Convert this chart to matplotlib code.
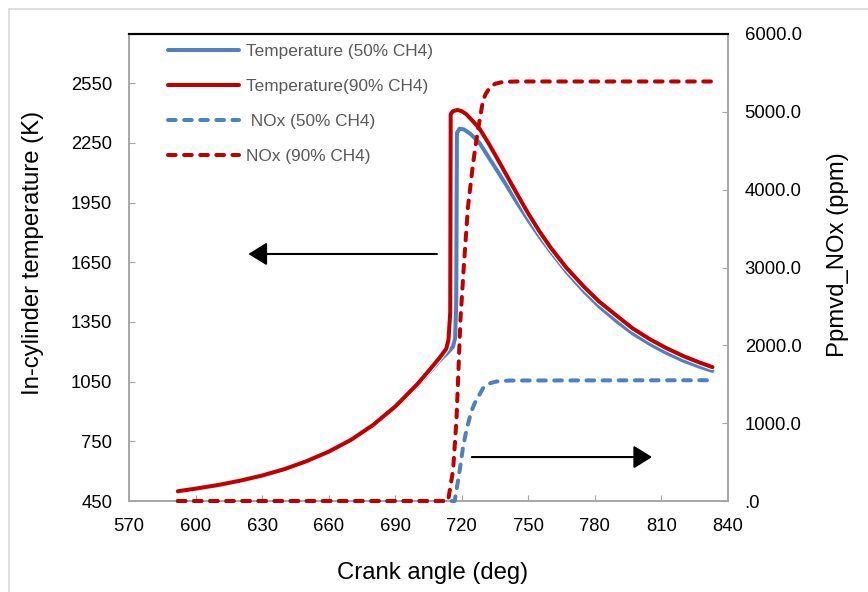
import matplotlib
matplotlib.use("Agg")
import matplotlib.pyplot as plt
import matplotlib.patheffects as pe
from matplotlib.lines import Line2D

plt.rcParams['font.family'] = ['Liberation Sans', 'DejaVu Sans']

### values
# in-cylinder temperature, 90% CH4
t90_deg = [592, 600, 610, 620, 630, 640, 650, 660, 670, 680, 690, 700, 705, 710, 713,
           714, 714.8, 715, 716, 718, 720, 722, 725, 728, 732, 736, 740, 745, 750,
           755, 760, 767, 775, 782, 790, 797, 805, 812, 820, 827, 833]
t90_K = [499, 512, 530, 552, 578, 610, 650, 698, 757, 832, 925, 1038, 1103, 1170, 1215,
         1260, 1400, 2395, 2410, 2416, 2410, 2395, 2360, 2322, 2250, 2172, 2092, 1992, 1895,
         1806, 1725, 1625, 1528, 1452, 1380, 1318, 1262, 1220, 1178, 1147, 1123]

# in-cylinder temperature, 50% CH4
t50_deg = [592, 600, 610, 620, 630, 640, 650, 660, 670, 680, 690, 700, 705, 710, 714,
           716, 717, 717.5, 717.8, 719, 721, 724, 728, 732, 736, 740, 745, 750,
           755, 760, 767, 775, 782, 790, 797, 805, 812, 820, 827, 833]
t50_K = [499, 512, 530, 551, 577, 608, 647, 694, 752, 828, 920, 1030, 1093, 1156, 1200,
         1225, 1270, 1450, 2300, 2322, 2318, 2295, 2250, 2180, 2110, 2040, 1948, 1862,
         1780, 1705, 1605, 1505, 1428, 1352, 1293, 1238, 1196, 1155, 1126, 1104]

# NOx, 90% CH4
n90_deg = [592, 713.8, 716.1, 717.6, 718.5, 719.4, 721, 722.8, 725.1, 727.3, 729.6,
           730.8, 732.6, 735, 738.6, 745, 833]
n90_ppm = [0, 0, 400, 1040, 1680, 2330, 3050, 3780, 4340, 4770, 5150,
           5230, 5310, 5360, 5385, 5390, 5390]

# NOx, 50% CH4
n50_deg = [592, 716.8, 719.1, 720.6, 722.1, 724.3, 725.8, 729.6, 732.6, 735.6, 741.6, 833]
n50_ppm = [0, 0, 400, 700, 910, 1150, 1255, 1450, 1512, 1535, 1548, 1552]

x_ticks = list(range(570, 841, 30))
left_ticks = list(range(450, 2551, 300))
right_ticks = list(range(0, 6001, 1000))
right_labels = [".0", "1000.0", "2000.0", "3000.0", "4000.0", "5000.0", "6000.0"]

blue = "#4F81BD"
red = "#C00000"
grey = "#A6A6A6"

W, H = 868, 592
fig = plt.figure(figsize=(W / 100, H / 100), dpi=100)
ax = fig.add_axes([129 / W, 1 - 501 / H, (728 - 129) / W, (501 - 34) / H])
ax2 = ax.twinx()

halo = [pe.Stroke(linewidth=4.4, foreground="white"), pe.Normal()]
l1, = ax.plot(t50_deg, t50_K, color=blue, lw=2.9, label="Temperature (50% CH4)",
              path_effects=halo, solid_joinstyle="round", solid_capstyle="round")
l2, = ax.plot(t90_deg, t90_K, color=red, lw=2.9, label="Temperature(90% CH4)",
              path_effects=halo, solid_joinstyle="round", solid_capstyle="round")
l3, = ax2.plot(n50_deg, n50_ppm, color=blue, lw=2.9, ls=(0, (1.9, 2.1)), zorder=3,
               dash_capstyle="round", clip_on=False, label=" NOx (50% CH4)")
l4, = ax2.plot(n90_deg, n90_ppm, color=red, lw=2.9, ls=(0, (1.9, 2.1)), zorder=3,
               dash_capstyle="round", clip_on=False, label="NOx (90% CH4)")

ax.set_xlim(570, 840)
ax.set_ylim(450, 2798)
ax2.set_ylim(0, 6000)
ax.set_xticks(x_ticks)
ax.set_yticks(left_ticks)
ax2.set_yticks(right_ticks)
ax2.set_yticklabels(right_labels)

for a in (ax, ax2):
    for s in a.spines.values():
        s.set_color(grey)
        s.set_linewidth(1.2)
    a.spines["top"].set_color("black")
    a.spines["top"].set_linewidth(1.5)
ax.tick_params(axis="both", direction="in", length=4, color=grey, labelsize=13.3, pad=12)
ax2.tick_params(axis="y", direction="in", length=4, color=grey, labelsize=13.3, pad=12)

# arrows pointing to the axis each family belongs to
arrow = dict(arrowstyle="-|>,head_length=0.42,head_width=0.26", color="black",
             lw=1.5, mutation_scale=27, shrinkA=0, shrinkB=0)
ax.annotate("", xy=(623.8, 1692), xytext=(708.8, 1692), arrowprops=arrow)
ax.annotate("", xy=(805.8, 671), xytext=(724.5, 671), arrowprops=arrow)

ax2.legend(handles=[l1, l2, l3, l4], loc="upper left",
           bbox_to_anchor=(168 / W, 1 - 44 / H), bbox_transform=fig.transFigure,
           frameon=False, borderaxespad=0, borderpad=0, handlelength=4.1,
           handletextpad=0.4, labelspacing=1.16, fontsize=12.4, labelcolor="#595959")

fig.text(433 / W, 1 - 573 / H, "Crank angle (deg)", ha="center", va="center", fontsize=17.2)
fig.text(33 / W, 1 - 253 / H, "In-cylinder temperature (K)", ha="center", va="center",
         rotation=90, fontsize=17.2)
fig.text(838 / W, 1 - 255 / H, "Ppmvd_NOx (ppm)", ha="center", va="center",
         rotation=90, fontsize=17.2)

# chart area border (only top and left show in the crop)
fig.add_artist(Line2D([9 / W, 9 / W], [0, 1 - 8.5 / H], transform=fig.transFigure,
                      color="#D9D9D9", lw=1.2))
fig.add_artist(Line2D([9 / W, 1], [1 - 8.5 / H, 1 - 8.5 / H], transform=fig.transFigure,
                      color="#D9D9D9", lw=1.2))

fig.savefig("out.png", dpi=100)
